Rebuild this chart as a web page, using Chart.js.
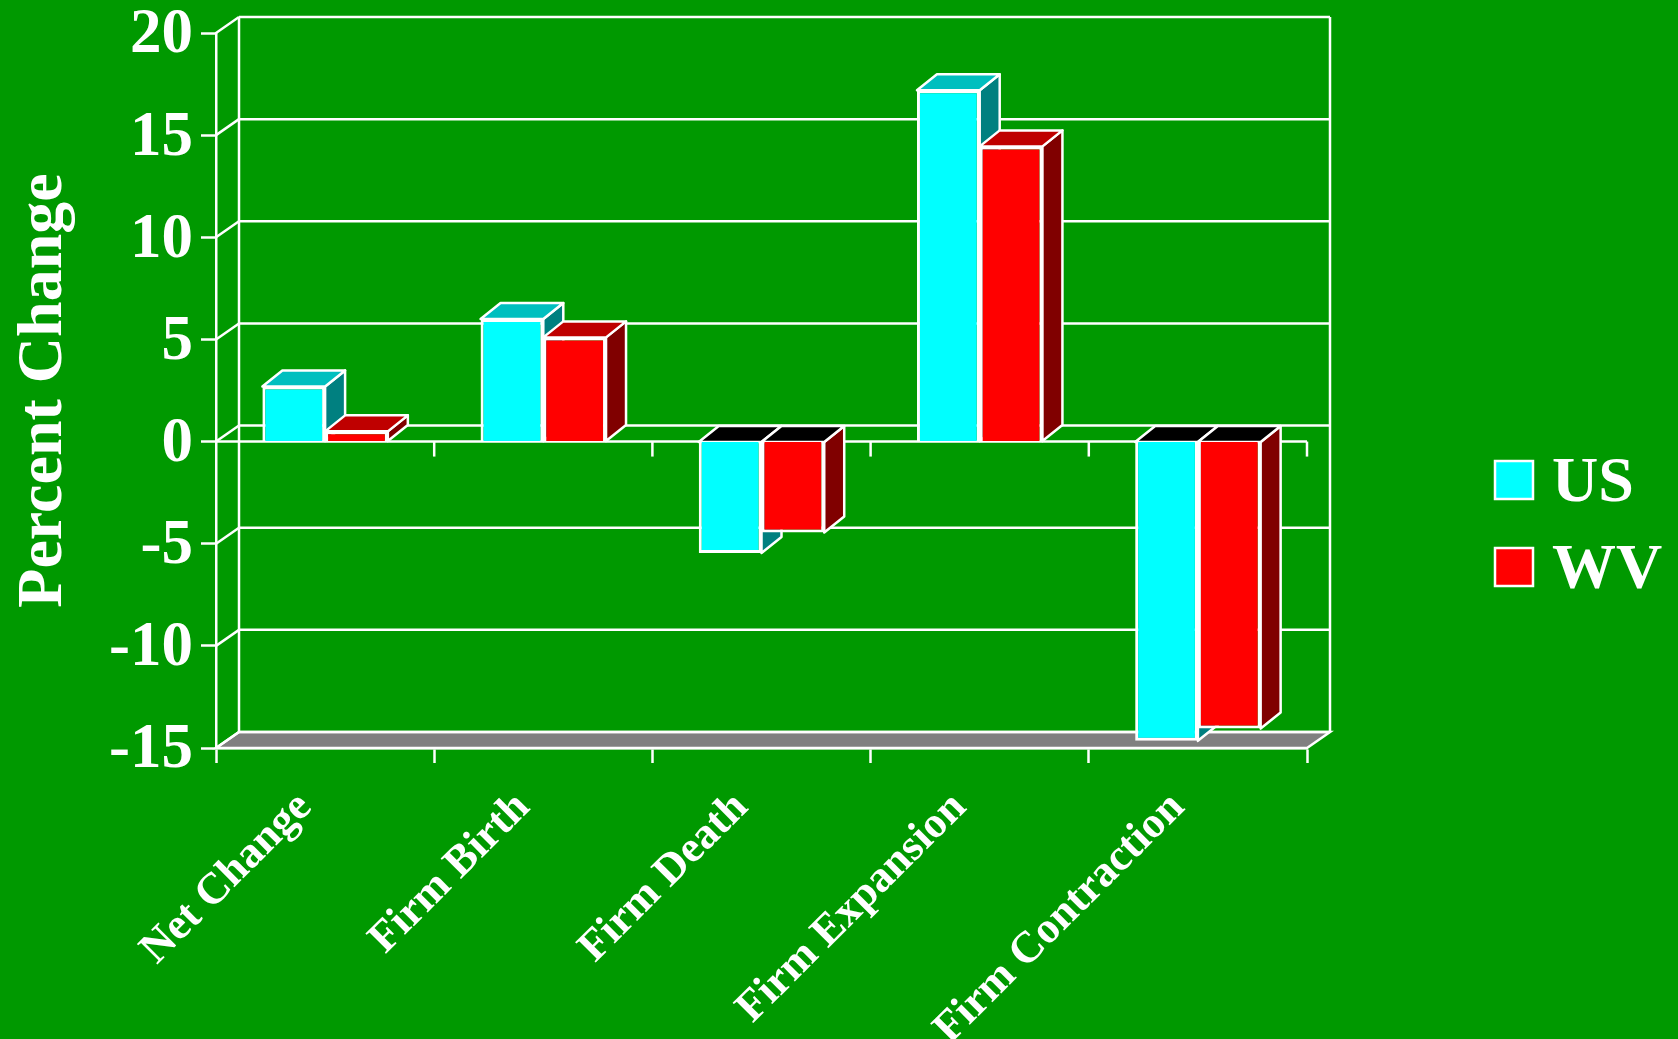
<!DOCTYPE html>
<html>
<head>
<meta charset="utf-8">
<title>Percent Change</title>
<script src="https://cdn.jsdelivr.net/npm/chart.js@4/dist/chart.umd.min.js"></script>
<style>
	html, body { margin: 0; padding: 0; background: #009900; overflow: hidden; }
	canvas { display: block; }
</style>
</head>
<body>
<canvas id="chart" width="1678" height="1039"></canvas>
<script>
var categories = [ 'Net Change', 'Firm Birth', 'Firm Death', 'Firm Expansion', 'Firm Contraction' ];
var usValues = [ 2.7, 6.0, -5.45, 17.2, -14.65 ];
var wvValues = [ 0.5, 5.1, -4.45, 14.45, -14.05 ];
var yTicks = [ -15, -10, -5, 0, 5, 10, 15, 20 ];

var WHITE = '#ffffff';
var FONT = '"Liberation Serif", "Times New Roman", serif';
var LINE = 2.5;

// Offsets of the fake depth: back wall and bar faces.
var WALL_DX = 23;
var WALL_DY = 16;
var BAR_DX = 20;
var BAR_DY = 16;

// Face colours per dataset, front colour comes from the dataset itself.
var faceColors = [
	{ top: '#00bfbf', side: '#008080' },
	{ top: '#bf0000', side: '#800000' }
];

function polygon( ctx, points, fill ) {
	ctx.beginPath();
	ctx.moveTo( points[ 0 ][ 0 ], points[ 0 ][ 1 ] );
	for ( var i = 1; i < points.length; i++ ) {
		ctx.lineTo( points[ i ][ 0 ], points[ i ][ 1 ] );
	}
	ctx.closePath();
	ctx.fillStyle = fill;
	ctx.fill();
	ctx.stroke();
}

function line( ctx, x1, y1, x2, y2 ) {
	ctx.beginPath();
	ctx.moveTo( x1, y1 );
	ctx.lineTo( x2, y2 );
	ctx.stroke();
}

/**
 * Top and side faces of one dataset, drawn under its own fronts.
 */
function drawBarFaces( ctx, meta, colors ) {
	meta.data.forEach( function( bar ) {
		var l = bar.x - bar.width / 2;
		var r = bar.x + bar.width / 2;
		var upper = Math.min( bar.y, bar.base );
		var lower = Math.max( bar.y, bar.base );
		var negative = bar.y > bar.base;

		polygon( ctx, [
			[ r, upper ],
			[ r + BAR_DX, upper - BAR_DY ],
			[ r + BAR_DX, lower - BAR_DY ],
			[ r, lower ]
		], colors.side );

		polygon( ctx, [
			[ l, upper ],
			[ l + BAR_DX, upper - BAR_DY ],
			[ r + BAR_DX, upper - BAR_DY ],
			[ r, upper ]
		], negative ? '#000000' : colors.top );
	} );
}

var wallPlugin = {
	id: 'wall',

	// Back wall, floor, side diagonals and the zero axis.
	beforeDatasetsDraw: function( chart ) {
		var ctx = chart.ctx;
		var x = chart.scales.x;
		var y = chart.scales.y;
		var left = x.left;
		var right = x.right;
		var bottom = y.getPixelForValue( yTicks[ 0 ] );
		var top = y.getPixelForValue( yTicks[ yTicks.length - 1 ] );
		var zero = y.getPixelForValue( 0 );

		ctx.save();
		ctx.strokeStyle = WHITE;
		ctx.lineWidth = LINE;

		polygon( ctx, [
			[ left, bottom ],
			[ right, bottom ],
			[ right + WALL_DX, bottom - WALL_DY ],
			[ left + WALL_DX, bottom - WALL_DY ]
		], '#808080' );

		yTicks.forEach( function( tick ) {
			var py = y.getPixelForValue( tick );
			line( ctx, left, py, left + WALL_DX, py - WALL_DY );
			line( ctx, left + WALL_DX, py - WALL_DY, right + WALL_DX, py - WALL_DY );
		} );

		line( ctx, left + WALL_DX, top - WALL_DY, left + WALL_DX, bottom - WALL_DY );
		line( ctx, right + WALL_DX, top - WALL_DY, right + WALL_DX, bottom - WALL_DY );

		// Zero axis with its own tick marks between the categories.
		line( ctx, left, zero, right, zero );
		var band = ( right - left ) / categories.length;
		for ( var i = 1; i <= categories.length; i++ ) {
			var px = x.getPixelForValue( i - 1 ) + band / 2;
			line( ctx, px, zero, px, zero + 15 );
		}
		ctx.restore();
	},

	// Chart.js paints the leftmost dataset last, here WV has to cover US.
	beforeDatasetDraw: function() {
		return false;
	},

	afterDatasetsDraw: function( chart ) {
		var ctx = chart.ctx;

		chart.data.datasets.forEach( function( dataset, i ) {
			var meta = chart.getDatasetMeta( i );

			ctx.save();
			ctx.strokeStyle = WHITE;
			ctx.lineWidth = LINE;
			ctx.lineJoin = 'round';
			drawBarFaces( ctx, meta, faceColors[ i ] );
			ctx.restore();

			meta.controller.draw();
		} );
	},

	// Legend sits in the empty strip on the right.
	afterDraw: function( chart ) {
		var ctx = chart.ctx;
		var boxX = 1495;
		var rows = [ 461, 548 ];

		ctx.save();
		ctx.font = 'bold 64px ' + FONT;
		ctx.textBaseline = 'alphabetic';
		ctx.textAlign = 'left';
		chart.data.datasets.forEach( function( dataset, i ) {
			ctx.fillStyle = dataset.backgroundColor;
			ctx.strokeStyle = WHITE;
			ctx.lineWidth = LINE;
			ctx.fillRect( boxX, rows[ i ], 38, 38 );
			ctx.strokeRect( boxX, rows[ i ], 38, 38 );
			ctx.fillStyle = WHITE;
			ctx.fillText( dataset.label, 1552, rows[ i ] + 40 );
		} );
		ctx.restore();
	}
};

new Chart( document.getElementById( 'chart' ), {
	type: 'bar',
	plugins: [ wallPlugin ],
	data: {
		labels: categories,
		datasets: [ {
			label: 'US',
			data: usValues,
			backgroundColor: '#00ffff',
			borderColor: WHITE,
			borderWidth: 3
		}, {
			label: 'WV',
			data: wvValues,
			backgroundColor: '#ff0000',
			borderColor: WHITE,
			borderWidth: 3
		} ]
	},
	options: {
		responsive: false,
		animation: false,
		layout: {
			padding: { top: 33, right: 371, bottom: 0, left: 0 }
		},
		datasets: {
			bar: {
				categoryPercentage: 0.575,
				barPercentage: 1
			}
		},
		plugins: {
			legend: { display: false },
			tooltip: { enabled: false }
		},
		scales: {
			x: {
				afterFit: function( scale ) {
					scale.height = 291;
				},
				grid: {
					drawOnChartArea: false,
					tickLength: 15,
					tickWidth: LINE,
					tickColor: WHITE
				},
				border: { color: WHITE, width: LINE },
				ticks: {
					color: WHITE,
					font: { family: FONT, size: 44, weight: 'bold', lineHeight: 1 },
					minRotation: 45,
					maxRotation: 45,
					autoSkip: false,
					padding: 22,
					labelOffset: -20
				}
			},
			y: {
				min: -15,
				max: 20,
				afterFit: function( scale ) {
					scale.width = 216;
					scale.paddingTop = 0;
					scale.paddingBottom = 0;
				},
				afterBuildTicks: function( scale ) {
					scale.ticks = yTicks.map( function( v ) {
						return { value: v };
					} );
				},
				grid: {
					drawOnChartArea: false,
					tickLength: 15,
					tickWidth: LINE,
					tickColor: WHITE
				},
				border: { color: WHITE, width: LINE },
				ticks: {
					color: WHITE,
					// Blank first line nudges the labels a little below their tick.
					callback: function( value ) {
						return [ '', String( value ) ];
					},
					font: { family: FONT, size: 63, weight: 'bold', lineHeight: 0.1 },
					padding: 8
				},
				title: {
					display: true,
					text: 'Percent Change',
					color: WHITE,
					font: { family: FONT, size: 64, weight: 'bold', lineHeight: 1 },
					padding: { top: 12, bottom: 0 }
				}
			}
		}
	}
} );
</script>
</body>
</html>
